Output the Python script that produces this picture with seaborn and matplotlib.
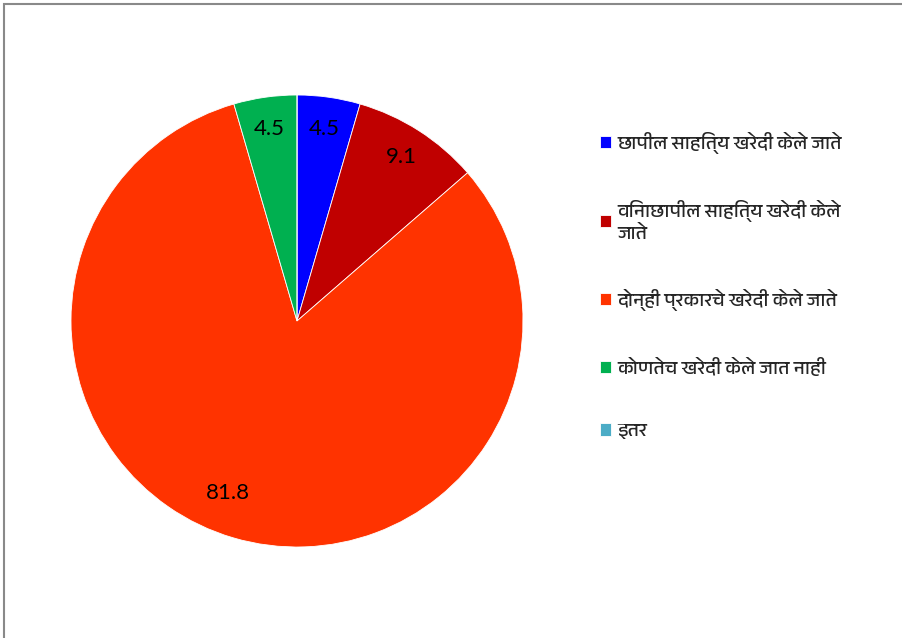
import matplotlib
matplotlib.use("Agg")
import numpy as np
import matplotlib.pyplot as plt
import seaborn as sns
from matplotlib import font_manager
from matplotlib.patches import Rectangle

categories = [
    "छापील साहित्य खरेदी केले जाते",
    "विनाछापील साहित्य खरेदी केले\nजाते",
    "दोन्ही प्रकारचे खरेदी केले जाते",
    "कोणतेच खरेदी केले जात नाही",
    "इतर",
]
values = [4.5, 9.1, 81.8, 4.5, 0.0]
colors = ["#0000FF", "#C00000", "#FF3300", "#00B050", "#4BACC6"]

sns.set_theme(style="white")

# pick a Devanagari-capable font if one exists, else fall back
deva = [f.name for f in font_manager.fontManager.ttflist
        if "Devanagari" in f.name or f.name in ("Mangal", "Lohit Devanagari", "FreeSans", "Kalimati")]
legend_fonts = sorted(set(deva))[:1] + ["DejaVu Sans"]
plt.rcParams["font.family"] = ["Lato", "DejaVu Sans"]

fig = plt.figure(figsize=(9.02, 6.38), dpi=100)
fig.patch.set_facecolor("white")
ax = fig.add_axes([71 / 902, 91 / 638, 452 / 902, 452 / 638])

total = sum(values)
wedges, texts, autotexts = ax.pie(
    values,
    colors=sns.color_palette(colors),
    startangle=90,
    counterclock=False,
    radius=1.0,
    autopct=lambda p: f"{p * total / 100:.1f}" if p > 0 else "",
    pctdistance=0.86,
    wedgeprops={"linewidth": 0.6, "edgecolor": "white"},
    textprops={"fontsize": 16, "color": "black"},
)

# the big slice label sits a little off its mid-angle (best-fit placement)
big = wedges[2]
ang = np.deg2rad((big.theta1 + big.theta2) / 2 - 5.5)
autotexts[2].set_position((0.82 * np.cos(ang), 0.82 * np.sin(ang)))

ax.set_xlim(-1, 1)
ax.set_ylim(-1, 1)
ax.set_aspect("equal")
ax.axis("off")

leg = fig.legend(
    wedges,
    categories,
    loc="upper left",
    bbox_to_anchor=(592 / 902, (638 - 124) / 638),
    frameon=False,
    prop={"family": legend_fonts, "size": 14},
    handlelength=0.6,
    handleheight=0.6,
    handletextpad=0.3,
    labelspacing=2.40,
    borderaxespad=0,
)

# chart-area border (left and top edges visible)
fig.patches.append(Rectangle((3.5 / 902, -0.2), 1.2, (638 - 3.5) / 638 + 0.2,
                             transform=fig.transFigure, fill=False,
                             edgecolor="#898989", linewidth=1.5))

fig.savefig("out.png", dpi=100)
